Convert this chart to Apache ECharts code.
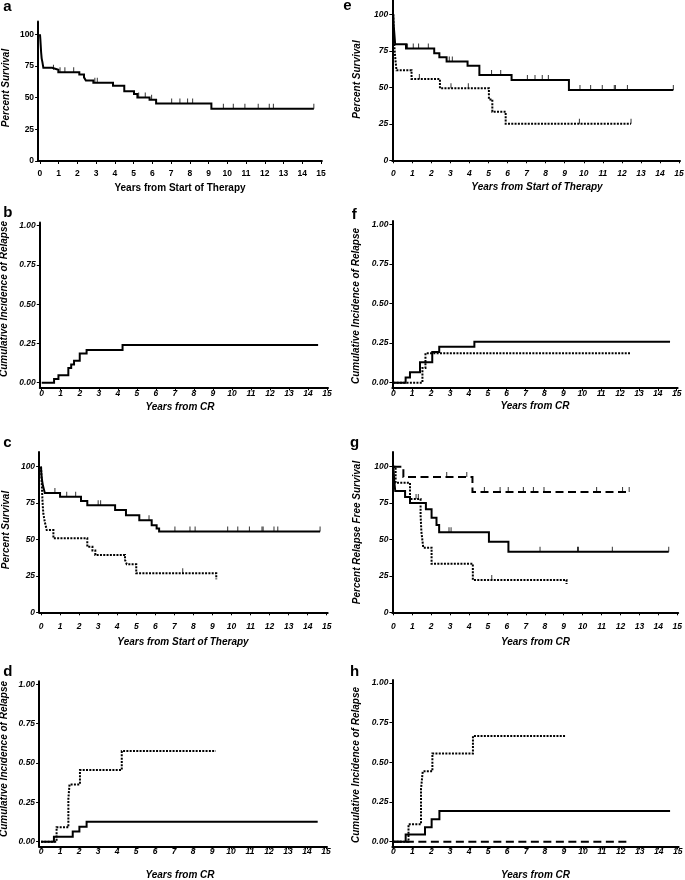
<!DOCTYPE html>
<html><head><meta charset="utf-8">
<script src="https://cdn.jsdelivr.net/npm/echarts@6.0.0/dist/echarts.min.js"></script>
<style>html,body{margin:0;padding:0;background:#fff}#c{width:685px;height:880px}</style>
</head><body><div id="c"></div>
<script>
// ---------- tick labels ----------
const xTicks = [0,1,2,3,4,5,6,7,8,9,10,11,12,13,14,15];
const survTicks = [0,25,50,75,100];
const cirTicks = [0,0.25,0.5,0.75,1];

// ---------- panel a: overall survival ----------
const aTimes = [0.02,0.04,0.06,0.09,0.13,0.18,0.65,0.98,2.1,2.35,2.45,2.85,3.9,4.5,5.02,5.2,5.85,6.2,9.15];
const aSurv  = [96,91,86,81,78,73.5,72,70,68.2,66,63.5,61.7,59.3,55.1,52.8,50.2,48.3,45.4,41.3];
const aEnd = 14.62;
const aCensor = [0.72,1.07,1.33,1.8,2.93,3.06,5.27,5.62,5.96,7.03,7.47,7.88,8.15,9.79,10.32,10.94,11.65,12.24,12.46,14.62];

// ---------- panel b: cumulative incidence of relapse ----------
const bTimes = [0.65,0.88,1.4,1.55,1.7,2.0,2.36,4.25];
const bCIR   = [0.023,0.047,0.093,0.116,0.14,0.186,0.209,0.24];
const bEnd = 14.53;

// ---------- panel c ----------
const cSolidTimes = [0.02,0.05,0.1,0.2,1.0,2.1,2.43,3.89,4.46,5.16,5.81,6.07,6.2];
const cSolidSurv  = [95,91,87,82,79.3,76.4,73.5,70.2,66.7,63.2,59.8,57.6,55.4];
const cSolidEnd = 14.65;
const cSolidCensor = [0.73,1.35,1.82,3.0,3.13,5.67,7.03,7.82,8.09,9.8,10.33,10.94,11.6,11.66,12.23,12.43,14.65];
const cDotTimes = [0.02,0.04,0.06,0.08,0.12,0.2,0.3,0.65,2.43,2.7,2.85,4.41,4.5,5.0,9.2];
const cDotSurv  = [94,88,82,76,68,62,56.5,50.8,45,42.5,39.4,36,33,26.8,22.7];
const cDotEnd = 9.22;
const cDotCensor = [7.44];

// ---------- panel d ----------
const dSolidTimes = [0.68,1.67,2.02,2.4];
const dSolidCIR   = [0.032,0.064,0.095,0.127];
const dSolidEnd = 14.56;
const dDotTimes = [0.82,1.44,1.5,2.05,4.25];
const dDotCIR   = [0.091,0.273,0.364,0.455,0.576];
const dDotEnd = 9.2;

// ---------- panel e ----------
const eSolidTimes = [0.02,0.05,0.1,0.67,2.15,2.42,2.8,3.9,4.52,6.21,9.22];
const eSolidSurv  = [93,88,79.5,76.5,73.3,70.6,67.6,64.7,58.5,55,48.2];
const eSolidEnd = 14.7;
const eSolidCensor = [0.75,1.05,1.33,1.84,2.94,3.1,5.16,5.64,7.04,7.44,7.82,8.14,9.8,10.36,10.97,11.6,11.66,12.29,14.7];
const eDotTimes = [0.02,0.05,0.08,0.12,0.17,0.96,2.45,5.02,5.2,5.9];
const eDotSurv  = [88,80,74,68,61.6,55.7,49.3,41.7,33.3,25];
const eDotEnd = 12.48;
const eDotCensor = [1.37,3.03,3.94,9.77,12.48];

// ---------- panel f ----------
const fSolidTimes = [0.65,0.88,1.41,2.06,2.43,4.29];
const fSolidCIR   = [0.032,0.065,0.129,0.194,0.226,0.258];
const fSolidEnd = 14.65;
const fDotTimes = [1.54,1.7];
const fDotCIR   = [0.093,0.185];
const fDotEnd = 12.53;

// ---------- panel g: relapse free survival ----------
const gSolidTimes = [0.04,0.1,0.62,0.88,1.72,2.02,2.28,2.42,5.05,6.08];
const gSolidSurv  = [91.7,83.3,79.2,75,70.8,65,60,54.9,48.5,41.6];
const gSolidEnd = 14.55;
const gSolidCensor = [2.94,3.05,7.75,9.73,9.78,11.57,14.55];
const gDotTimes = [0.12,0.88,1.44,1.48,1.58,2.02,4.2,9.15];
const gDotSurv  = [88.9,77.8,66.7,55.6,44.4,33.3,22.2,19.4];
const gDotEnd = 9.15;
const gDotCensor = [1.2,1.32,5.2];
const gDashTimes = [0.53,4.18];
const gDashSurv  = [92.9,82.6];
const gDashEnd = 12.46;
const gDashCensor = [2.82,3.88,4.81,5.64,6.07,6.87,7.4,7.96,10.74,12.11,12.46];

// ---------- panel h ----------
const hSolidTimes = [0.65,1.67,2.02,2.43];
const hSolidCIR   = [0.046,0.091,0.141,0.194];
const hSolidEnd = 14.6;
const hDotTimes = [0.8,1.46,1.55,2.06,4.2];
const hDotCIR   = [0.111,0.333,0.444,0.556,0.667];
const hDotEnd = 9.1;
const hDashTimes = [];
const hDashCIR   = [];
const hDashEnd = 12.45;

// ---------- layout ----------
const FONT = '"Liberation Sans", Arial, Helvetica, sans-serif';
const panels = [
  {grid:{left:38.1, top:21.6, width:283.8, height:139.4}, x:[-0.1,15.05], y:[0,110], kind:'surv', italic:false, xm:8},
  {grid:{left:39.8, top:222.6, width:288.2, height:164.8}, x:[-0.1,15.05], y:[-0.03,1.02], kind:'cir', italic:true, xm:1.5},
  {grid:{left:39.1, top:452.1, width:288.6, height:160.2}, x:[-0.1,15.05], y:[0,110], kind:'surv', italic:true, xm:9.5},
  {grid:{left:39.1, top:681.2, width:287.9, height:165.2}, x:[-0.1,15.05], y:[-0.03,1.02], kind:'cir', italic:true, xm:0.8},
  {grid:{left:392.3, top:-0.3, width:287.7, height:160.6}, x:[-0.05,15.05], y:[0,110], kind:'surv', italic:true, xm:8.5},
  {grid:{left:392.4, top:221.1, width:285.2, height:167.1}, x:[-0.05,15.05], y:[-0.035,1.02], kind:'cir', italic:true, xm:1},
  {grid:{left:392.4, top:452.1, width:285.8, height:160.2}, x:[-0.05,15.05], y:[0,110], kind:'surv', italic:true, xm:9.5},
  {grid:{left:392.4, top:679.9, width:286.2, height:166.6}, x:[-0.05,15.05], y:[-0.03,1.02], kind:'cir', italic:true, xm:0.8}
];

function stepPts(start, times, vals, end) {
  const pts = [[0, start]];
  let cur = start;
  for (let i = 0; i < times.length; i++) {
    pts.push([times[i], cur]);
    pts.push([times[i], vals[i]]);
    cur = vals[i];
  }
  pts.push([end, cur]);
  return pts;
}
function valueAt(start, times, vals, t) {
  let v = start;
  for (let i = 0; i < times.length; i++) if (times[i] <= t) v = vals[i];
  return v;
}
const DASH = {solid:'solid', dotted:[2,1.3], dashed:[8,4.5]};
const series = [];
function curve(pi, start, times, vals, end, style, censor) {
  series.push({
    type:'line', xAxisIndex:pi, yAxisIndex:pi, data:stepPts(start, times, vals, end),
    symbol:'none', showSymbol:false, silent:true, animation:false, z:3,
    lineStyle:{color:'#000', width:2, type:DASH[style], cap:'butt', join:'miter'}
  });
  if (censor && censor.length) {
    series.push({
      type:'scatter', xAxisIndex:pi, yAxisIndex:pi,
      data:censor.map(t => [t, valueAt(start, times, vals, t)]),
      symbol:'rect', symbolSize:[1,5], symbolOffset:[0,-2.5], silent:true, animation:false, z:4,
      itemStyle:{color:'#000'}
    });
  }
}
curve(0, 100, aTimes, aSurv, aEnd, 'solid', aCensor);
curve(1, 0, bTimes, bCIR, bEnd, 'solid');
curve(2, 100, cSolidTimes, cSolidSurv, cSolidEnd, 'solid', cSolidCensor);
curve(2, 100, cDotTimes, cDotSurv, cDotEnd, 'dotted', cDotCensor);
curve(3, 0, dSolidTimes, dSolidCIR, dSolidEnd, 'solid');
curve(3, 0, dDotTimes, dDotCIR, dDotEnd, 'dotted');
curve(4, 100, eSolidTimes, eSolidSurv, eSolidEnd, 'solid', eSolidCensor);
curve(4, 100, eDotTimes, eDotSurv, eDotEnd, 'dotted', eDotCensor);
curve(5, 0, fSolidTimes, fSolidCIR, fSolidEnd, 'solid');
curve(5, 0, fDotTimes, fDotCIR, fDotEnd, 'dotted');
curve(6, 100, gSolidTimes, gSolidSurv, gSolidEnd, 'solid', gSolidCensor);
curve(6, 100, gDotTimes, gDotSurv, gDotEnd, 'dotted', gDotCensor);
curve(6, 100, gDashTimes, gDashSurv, gDashEnd, 'dashed', gDashCensor);
curve(7, 0, hSolidTimes, hSolidCIR, hSolidEnd, 'solid');
curve(7, 0, hDotTimes, hDotCIR, hDotEnd, 'dotted');
curve(7, 0, hDashTimes, hDashCIR, hDashEnd, 'dashed');

function lab(italic) {
  return {fontFamily:FONT, fontSize:8.5, fontWeight:'bold', fontStyle: italic ? 'italic' : 'normal', color:'#000'};
}
const grids = panels.map(p => Object.assign({outerBoundsMode:'none', containLabel:false}, p.grid));
const xAxes = panels.map((p, i) => ({
  type:'value', gridIndex:i, min:p.x[0], max:p.x[1],
  axisLine:{show:true, onZero:false, lineStyle:{color:'#000', width:2}},
  axisTick:{show:true, length:3, customValues:xTicks, lineStyle:{color:'#000', width:1}},
  axisLabel:Object.assign({customValues:xTicks, margin:p.xm}, lab(p.italic)),
  splitLine:{show:false}
}));
const yAxes = panels.map((p, i) => ({
  type:'value', gridIndex:i, min:p.y[0], max:p.y[1],
  axisLine:{show:true, onZero:false, lineStyle:{color:'#000', width:2}},
  axisTick:{show:true, length:3, customValues: p.kind === 'surv' ? survTicks : cirTicks, lineStyle:{color:'#000', width:1}},
  axisLabel:Object.assign({customValues: p.kind === 'surv' ? survTicks : cirTicks, margin:4,
    formatter: p.kind === 'surv' ? (v => String(Math.round(v))) : (v => Number(v).toFixed(2))}, lab(p.italic)),
  splitLine:{show:false}
}));

function txt(x, y, text, size, italic, rot, align) {
  return {type:'text', x:x, y:y, rotation: rot || 0, silent:true, z:10,
    style:{text:text, fill:'#000', font:(italic ? 'italic ' : '') + 'bold ' + size + 'px ' + FONT,
      align: align || 'center', verticalAlign:'middle'}};
}
const R = Math.PI / 2;
const graphics = [
  txt(3.3, 6.7, 'a', 15, false, 0, 'left'),
  txt(3.3, 213.3, 'b', 15, false, 0, 'left'),
  txt(3.3, 443.3, 'c', 15, false, 0, 'left'),
  txt(3.3, 671.7, 'd', 15, false, 0, 'left'),
  txt(343.3, 6, 'e', 15, false, 0, 'left'),
  txt(351.7, 215, 'f', 15, false, 0, 'left'),
  txt(350, 443.3, 'g', 15, false, 0, 'left'),
  txt(350, 672.3, 'h', 15, false, 0, 'left'),
  txt(180, 188.5, 'Years from Start of Therapy', 10, false),
  txt(180, 407, 'Years from CR', 10, true),
  txt(183, 642, 'Years from Start of Therapy', 10, true),
  txt(180, 875, 'Years from CR', 10, true),
  txt(537, 187, 'Years from Start of Therapy', 10, true),
  txt(535, 406.5, 'Years from CR', 10, true),
  txt(535.5, 642, 'Years from CR', 10, true),
  txt(535.5, 875, 'Years from CR', 10, true),
  txt(6, 88, 'Percent Survival', 10, true, R),
  txt(4.5, 299, 'Cumulative Incidence of Relapse', 10, true, R),
  txt(6, 530, 'Percent Survival', 10, true, R),
  txt(4.5, 759, 'Cumulative Incidence of Relapse', 10, true, R),
  txt(357.5, 79.5, 'Percent Survival', 10, true, R),
  txt(356.5, 306, 'Cumulative Incidence of Relapse', 10, true, R),
  txt(357.5, 532.5, 'Percent Relapse Free Survival', 10, true, R),
  txt(356.5, 765, 'Cumulative Incidence of Relapse', 10, true, R)
];

const chart = echarts.init(document.getElementById('c'), null, {renderer:'canvas'});
chart.setOption({
  animation:false,
  backgroundColor:'#fff',
  grid:grids, xAxis:xAxes, yAxis:yAxes, series:series, graphic:graphics
});
</script></body></html>
